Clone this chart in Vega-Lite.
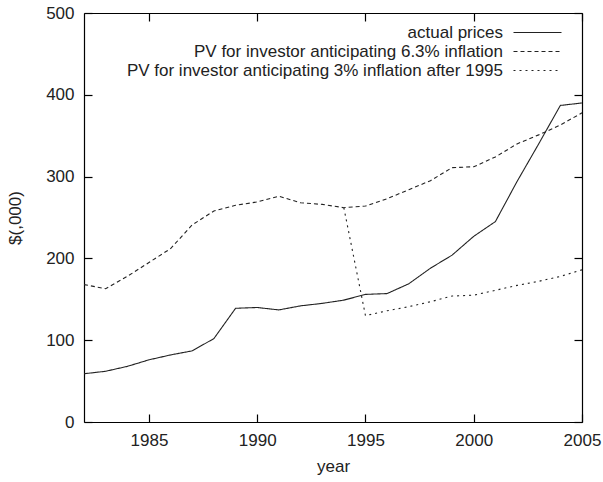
{
  "$schema": "https://vega.github.io/schema/vega-lite/v6.json",
  "width": 498,
  "height": 409,
  "autosize": {"type": "none"},
  "padding": {"left": 84, "top": 13, "right": 21, "bottom": 60},
  "config": {
    "view": {"stroke": null},
    "font": "Liberation Sans",
    "axis": {
      "domainColor": "black",
      "domainWidth": 1.2,
      "tickColor": "black",
      "tickWidth": 1.2,
      "grid": false,
      "labelFlush": false,
      "labelFont": "Liberation Sans",
      "labelFontSize": 17,
      "labelColor": "#222",
      "titleFont": "Liberation Sans",
      "titleFontSize": 17,
      "titleFontWeight": "normal",
      "titleColor": "#222"
    }
  },
  "data": {
    "values": [
      {"year": 1982, "value": 59, "series": "actual prices"},
      {"year": 1983, "value": 62, "series": "actual prices"},
      {"year": 1984, "value": 68, "series": "actual prices"},
      {"year": 1985, "value": 76, "series": "actual prices"},
      {"year": 1986, "value": 82, "series": "actual prices"},
      {"year": 1987, "value": 87, "series": "actual prices"},
      {"year": 1988, "value": 102, "series": "actual prices"},
      {"year": 1989, "value": 139, "series": "actual prices"},
      {"year": 1990, "value": 140, "series": "actual prices"},
      {"year": 1991, "value": 137, "series": "actual prices"},
      {"year": 1992, "value": 142, "series": "actual prices"},
      {"year": 1993, "value": 145, "series": "actual prices"},
      {"year": 1994, "value": 149, "series": "actual prices"},
      {"year": 1995, "value": 156, "series": "actual prices"},
      {"year": 1996, "value": 157, "series": "actual prices"},
      {"year": 1997, "value": 169, "series": "actual prices"},
      {"year": 1998, "value": 188, "series": "actual prices"},
      {"year": 1999, "value": 204, "series": "actual prices"},
      {"year": 2000, "value": 227, "series": "actual prices"},
      {"year": 2001, "value": 245, "series": "actual prices"},
      {"year": 2002, "value": 294, "series": "actual prices"},
      {"year": 2003, "value": 340, "series": "actual prices"},
      {"year": 2004, "value": 387, "series": "actual prices"},
      {"year": 2005, "value": 390, "series": "actual prices"},
      {"year": 1982, "value": 168, "series": "PV for investor anticipating 6.3% inflation"},
      {"year": 1983, "value": 163, "series": "PV for investor anticipating 6.3% inflation"},
      {"year": 1984, "value": 178, "series": "PV for investor anticipating 6.3% inflation"},
      {"year": 1985, "value": 195, "series": "PV for investor anticipating 6.3% inflation"},
      {"year": 1986, "value": 212, "series": "PV for investor anticipating 6.3% inflation"},
      {"year": 1987, "value": 241, "series": "PV for investor anticipating 6.3% inflation"},
      {"year": 1988, "value": 258, "series": "PV for investor anticipating 6.3% inflation"},
      {"year": 1989, "value": 265, "series": "PV for investor anticipating 6.3% inflation"},
      {"year": 1990, "value": 269, "series": "PV for investor anticipating 6.3% inflation"},
      {"year": 1991, "value": 276, "series": "PV for investor anticipating 6.3% inflation"},
      {"year": 1992, "value": 268, "series": "PV for investor anticipating 6.3% inflation"},
      {"year": 1993, "value": 266, "series": "PV for investor anticipating 6.3% inflation"},
      {"year": 1994, "value": 262, "series": "PV for investor anticipating 6.3% inflation"},
      {"year": 1995, "value": 264, "series": "PV for investor anticipating 6.3% inflation"},
      {"year": 1996, "value": 273, "series": "PV for investor anticipating 6.3% inflation"},
      {"year": 1997, "value": 284, "series": "PV for investor anticipating 6.3% inflation"},
      {"year": 1998, "value": 295, "series": "PV for investor anticipating 6.3% inflation"},
      {"year": 1999, "value": 311, "series": "PV for investor anticipating 6.3% inflation"},
      {"year": 2000, "value": 312, "series": "PV for investor anticipating 6.3% inflation"},
      {"year": 2001, "value": 324, "series": "PV for investor anticipating 6.3% inflation"},
      {"year": 2002, "value": 340, "series": "PV for investor anticipating 6.3% inflation"},
      {"year": 2003, "value": 351, "series": "PV for investor anticipating 6.3% inflation"},
      {"year": 2004, "value": 363, "series": "PV for investor anticipating 6.3% inflation"},
      {"year": 2005, "value": 378, "series": "PV for investor anticipating 6.3% inflation"},
      {"year": 1994, "value": 262, "series": "PV for investor anticipating 3% inflation after 1995"},
      {"year": 1995, "value": 130, "series": "PV for investor anticipating 3% inflation after 1995"},
      {"year": 1996, "value": 136, "series": "PV for investor anticipating 3% inflation after 1995"},
      {"year": 1997, "value": 141, "series": "PV for investor anticipating 3% inflation after 1995"},
      {"year": 1998, "value": 147, "series": "PV for investor anticipating 3% inflation after 1995"},
      {"year": 1999, "value": 154, "series": "PV for investor anticipating 3% inflation after 1995"},
      {"year": 2000, "value": 155, "series": "PV for investor anticipating 3% inflation after 1995"},
      {"year": 2001, "value": 161, "series": "PV for investor anticipating 3% inflation after 1995"},
      {"year": 2002, "value": 167, "series": "PV for investor anticipating 3% inflation after 1995"},
      {"year": 2003, "value": 172, "series": "PV for investor anticipating 3% inflation after 1995"},
      {"year": 2004, "value": 178, "series": "PV for investor anticipating 3% inflation after 1995"},
      {"year": 2005, "value": 186, "series": "PV for investor anticipating 3% inflation after 1995"}
    ]
  },
  "layer": [
    {
      "mark": {"type": "line", "strokeWidth": 1.1, "clip": true},
      "encoding": {
        "x": {
          "field": "year", "type": "quantitative",
          "scale": {"domain": [1982, 2005], "nice": false, "zero": false},
          "axis": {"orient": "bottom", "values": [1985, 1990, 1995, 2000, 2005], "format": "d", "tickSize": -8, "labelPadding": 18, "title": "year", "titlePadding": 10}
        },
        "y": {
          "field": "value", "type": "quantitative",
          "scale": {"domain": [0, 500], "nice": false},
          "axis": {"orient": "left", "values": [0, 100, 200, 300, 400, 500], "tickSize": -8, "labelPadding": 18, "title": "$(,000)", "titlePadding": 21}
        },
        "color": {
          "field": "series", "type": "nominal",
          "scale": {"domain": ["actual prices", "PV for investor anticipating 6.3% inflation", "PV for investor anticipating 3% inflation after 1995"], "range": ["#222", "#222", "#222"]},
          "legend": {
            "orient": "none", "legendX": 445, "legendY": 11, "title": null,
            "symbolType": "M-4,0H4", "symbolSize": 144, "symbolStrokeWidth": 1.1,
            "labelAlign": "right", "labelOffset": -43, "labelFontSize": 17, "labelFont": "Liberation Sans", "labelColor": "#222", "rowPadding": 1, "labelLimit": 0
          }
        },
        "strokeDash": {
          "field": "series", "type": "nominal",
          "scale": {"domain": ["actual prices", "PV for investor anticipating 6.3% inflation", "PV for investor anticipating 3% inflation after 1995"], "range": [[1, 0], [4, 3], [2, 4]]},
          "legend": {
            "orient": "none", "legendX": 445, "legendY": 11, "title": null,
            "symbolType": "M-4,0H4", "symbolSize": 144, "symbolStrokeWidth": 1.1,
            "labelAlign": "right", "labelOffset": -43, "labelFontSize": 17, "labelFont": "Liberation Sans", "labelColor": "#222", "rowPadding": 1, "labelLimit": 0
          }
        }
      }
    },
    {
      "mark": {"type": "point", "opacity": 0},
      "encoding": {
        "x": {
          "field": "year", "type": "quantitative",
          "axis": {"orient": "top", "values": [1985, 1990, 1995, 2000, 2005], "tickSize": -8, "labels": false, "title": null}
        },
        "y": {
          "field": "value", "type": "quantitative",
          "axis": {"orient": "right", "values": [0, 100, 200, 300, 400, 500], "tickSize": -8, "labels": false, "title": null}
        }
      }
    }
  ]
}
